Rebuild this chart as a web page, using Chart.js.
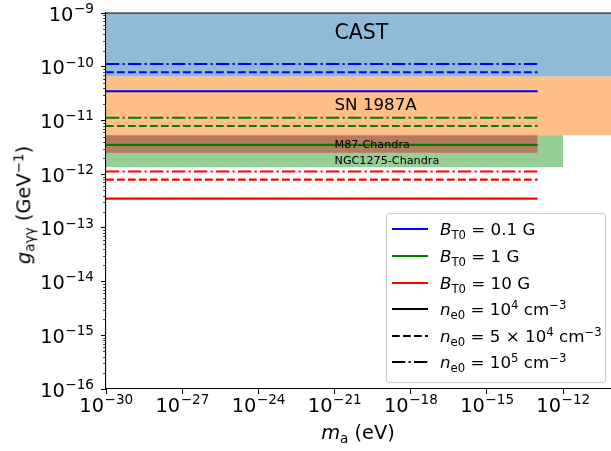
<!DOCTYPE html>
<html>
<head>
<meta charset="utf-8">
<script src="https://cdn.jsdelivr.net/npm/chart.js@4.4.1/dist/chart.umd.min.js"></script>
<style>
    body { margin: 0; background: #fff; }
    #wrap { position: relative; width: 611px; height: 451px; font-family: 'DejaVu Sans', sans-serif; color: #000; }
    #chart { position: absolute; left: 0; top: 0; }
    .axis-title { position: absolute; font-size: 19.4px; white-space: nowrap; line-height: 1; }
    #ytitle { left: 24px; top: 205px; transform: translate(-50%, -50%) rotate(-90deg); }
    #xtitle { left: 358px; top: 433px; transform: translate(-50%, -50%); }
    sub { font-size: 0.7em; vertical-align: -0.3em; line-height: 0; }
    sup { font-size: 0.7em; vertical-align: 0.55em; line-height: 0; }
    #legend { position: absolute; left: 386px; top: 213px; width: 218px; height: 168px;
        border: 1px solid #cccccc; border-radius: 3px; background: rgba(255, 255, 255, 0.8); }
    .row { position: absolute; left: 5px; height: 20px; display: flex; align-items: center; font-size: 16.7px; white-space: nowrap; }
    .row svg { margin-right: 12px; }
</style>
</head>
<body>
<div id="wrap">
    <canvas id="chart" width="611" height="451"></canvas>
    <div class="axis-title" id="ytitle"><i>g</i><sub>aγγ</sub> (GeV<sup>−1</sup>)</div>
    <div class="axis-title" id="xtitle"><i>m</i><sub>a</sub> (eV)</div>
    <div id="legend"></div>
</div>
<script>
// axes
const xMin = 1e-30;
const xMax = Math.pow(10, -10.11);
const yMin = 1e-16;
const yMax = 1e-9;
const xTicks = [1e-30, 1e-27, 1e-24, 1e-21, 1e-18, 1e-15, 1e-12];
const yTicks = [1e-16, 1e-15, 1e-14, 1e-13, 1e-12, 1e-11, 1e-10, 1e-9];

// excluded regions (upper bounds on g)
const castLimit = 6.6e-11;
const snLimit = 5.3e-12;
const ngcLimit = 1.36e-12;
const m87Limit = 2.5e-12;
const ngcMassMax = 1e-12;
const m87MassMax = 1e-13;

// region labels
const regionNames = ['CAST', 'SN 1987A', 'M87-Chandra', 'NGC1275-Chandra'];
const regionLabelX = [1e-21, 1e-21, 1e-21, 1e-21];
const regionLabelY = [4.2e-10, 1.88e-11, 3.5e-12, 1.75e-12];

// projected sensitivity lines, one entry per B_T0
const fieldValues = ['0.1', '1', '10'];
const gSolid = [3.5e-11, 3.5e-12, 3.5e-13];     // n_e0 = 1e4 cm^-3
const gDashed = [7.9e-11, 7.9e-12, 7.9e-13];    // n_e0 = 5e4 cm^-3
const gDashDot = [1.12e-10, 1.12e-11, 1.12e-12]; // n_e0 = 1e5 cm^-3
const lineMass = [1e-30, 1e-13];

const densityLabels = ['10<sup>4</sup>', '5 × 10<sup>4</sup>', '10<sup>5</sup>'];

const fieldColors = ['#0000ff', '#008000', '#ff0000'];
const dashes = [[], [7.7, 3.3], [13.3, 3.3, 2.1, 3.3]];
const lineWidth = 2.1;

const baseFont = '19.4px "DejaVu Sans"';
const expFont = '13.6px "DejaVu Sans"';

const exponent = v => String(Math.round(Math.log10(v))).replace('-', '\u2212');
const flat = (y, x0, x1) => [{x: x0, y: y}, {x: x1, y: y}];

const datasets = [];

// lines
[gSolid, gDashed, gDashDot].forEach((series, j) => {
    series.forEach((g, i) => {
        datasets.push({
            data: flat(g, lineMass[0], lineMass[1]),
            borderColor: fieldColors[i],
            borderWidth: lineWidth,
            borderDash: dashes[j],
            pointRadius: 0,
            fill: false,
            order: 0
        });
    });
});

// filled regions, CAST and SN 1987A run over the whole mass range
datasets.push({data: flat(castLimit, xMin, xMax), fill: 'end', backgroundColor: 'rgba(31,119,180,0.5)', borderColor: 'rgba(0,0,0,0)', borderWidth: 0, pointRadius: 0, order: 14});
datasets.push({data: flat(snLimit, xMin, xMax), fill: {value: castLimit}, backgroundColor: 'rgba(255,127,14,0.5)', borderColor: 'rgba(0,0,0,0)', borderWidth: 0, pointRadius: 0, order: 13});
datasets.push({data: flat(ngcLimit, xMin, ngcMassMax), fill: {value: snLimit}, backgroundColor: 'rgba(44,160,44,0.5)', borderColor: 'rgba(0,0,0,0)', borderWidth: 0, pointRadius: 0, order: 12});
datasets.push({data: flat(m87Limit, xMin, m87MassMax), fill: {value: snLimit}, backgroundColor: 'rgba(214,39,40,0.5)', borderColor: 'rgba(0,0,0,0)', borderWidth: 0, pointRadius: 0, order: 11});

// draws "10" with a raised exponent; align is 'center' or 'right'
function powerText(ctx, v, x, baseline, align) {
    ctx.font = baseFont;
    const w10 = ctx.measureText('10').width;
    ctx.font = expFont;
    const e = exponent(v);
    const we = ctx.measureText(e).width;
    const left = align === 'right' ? x - w10 - we : x - (w10 + we) / 2;
    ctx.textAlign = 'left';
    ctx.textBaseline = 'alphabetic';
    ctx.font = baseFont;
    ctx.fillText('10', left, baseline);
    ctx.font = expFont;
    ctx.fillText(e, left + w10 + 0.5, baseline - 7.6);
}

const framePlugin = {
    id: 'frame',
    afterDraw(chart) {
        const ctx = chart.ctx;
        const area = chart.chartArea;
        const xs = chart.scales.x;
        const ys = chart.scales.y;
        ctx.save();
        // top spine
        ctx.strokeStyle = '#000';
        ctx.lineWidth = 1.1;
        ctx.beginPath();
        ctx.moveTo(area.left, area.top);
        ctx.lineTo(area.right, area.top);
        ctx.stroke();
        // minor ticks on y
        ctx.lineWidth = 0.8;
        for (let d = -16; d < -9; d++) {
            for (let m = 2; m < 10; m++) {
                const py = Math.round(ys.getPixelForValue(m * Math.pow(10, d))) + 0.5;
                ctx.beginPath();
                ctx.moveTo(area.left - 2.8, py);
                ctx.lineTo(area.left, py);
                ctx.stroke();
            }
        }
        // tick labels
        ctx.fillStyle = '#000';
        xTicks.forEach(v => powerText(ctx, v, xs.getPixelForValue(v), area.bottom + 23, 'center'));
        yTicks.forEach(v => powerText(ctx, v, area.left - 12.5, ys.getPixelForValue(v) + 7.5, 'right'));
        // region labels
        ctx.textAlign = 'left';
        ctx.textBaseline = 'middle';
        const sizes = [20.5, 16.7, 11.2, 11.2];
        regionNames.forEach((name, i) => {
            ctx.font = sizes[i] + 'px "DejaVu Sans"';
            ctx.fillText(name, xs.getPixelForValue(regionLabelX[i]), ys.getPixelForValue(regionLabelY[i]));
        });
        ctx.restore();
    }
};

new Chart(document.getElementById('chart'), {
    type: 'line',
    data: {datasets: datasets},
    plugins: [framePlugin],
    options: {
        responsive: false,
        animation: false,
        layout: {padding: {top: 13, right: 0, left: 0, bottom: 0}},
        plugins: {legend: {display: false}, tooltip: {enabled: false}},
        scales: {
            x: {
                type: 'logarithmic',
                min: xMin,
                max: xMax,
                afterBuildTicks: scale => { scale.ticks = xTicks.map(v => ({value: v})); },
                afterFit: scale => { scale.height = 62; },
                ticks: {display: false},
                grid: {drawOnChartArea: false, tickLength: 5, tickWidth: 1.1, tickColor: '#000'},
                border: {color: '#000', width: 1.1}
            },
            y: {
                type: 'logarithmic',
                min: yMin,
                max: yMax,
                afterBuildTicks: scale => { scale.ticks = yTicks.map(v => ({value: v})); },
                afterFit: scale => { scale.width = 106; },
                ticks: {display: false},
                grid: {drawOnChartArea: false, tickLength: 5, tickWidth: 1.1, tickColor: '#000'},
                border: {color: '#000', width: 1.1}
            }
        }
    }
});

// legend
const legend = document.getElementById('legend');
const legendRows = [];
fieldValues.forEach((b, i) => legendRows.push({color: fieldColors[i], dash: [], html: '<i>B</i><sub>T0</sub> = ' + b + ' G'}));
densityLabels.forEach((n, j) => legendRows.push({color: '#000', dash: dashes[j], html: '<i>n</i><sub>e0</sub> = ' + n + ' cm<sup>−3</sup>'}));

legendRows.forEach((row, k) => {
    const div = document.createElement('div');
    div.className = 'row';
    div.style.top = (5.3 + k * 26.6) + 'px';
    div.innerHTML = '<svg width="36" height="10"><line x1="0" y1="5" x2="36" y2="5" stroke="' + row.color +
        '" stroke-width="' + lineWidth + '" stroke-dasharray="' + (row.dash.length ? row.dash.join(' ') : 'none') +
        '"/></svg><span>' + row.html + '</span>';
    legend.appendChild(div);
});
</script>
</body>
</html>
